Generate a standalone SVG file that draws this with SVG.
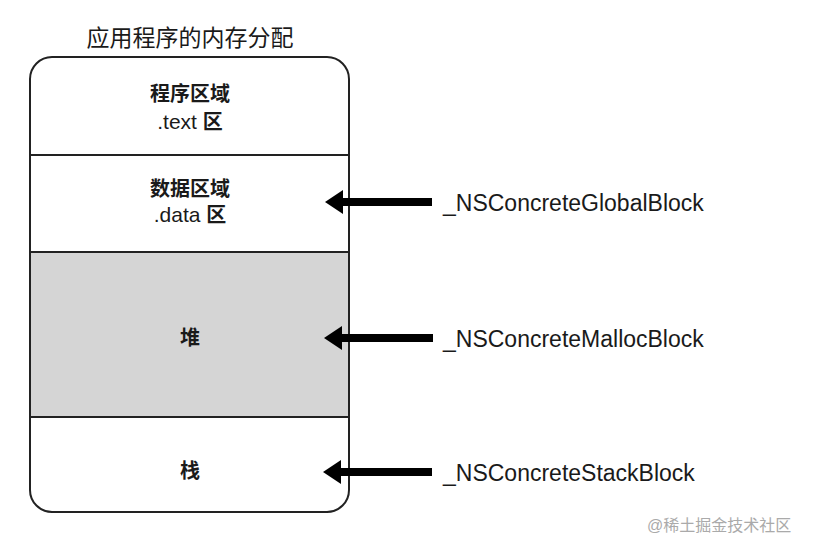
<svg xmlns="http://www.w3.org/2000/svg" width="816" height="552" viewBox="0 0 816 552">
<defs>
<style>
.cjk{font-family:"Liberation Sans","Noto Sans CJK SC",sans-serif;fill:#1a1a1a}
.b{font-weight:bold;font-size:20px}
.n{font-weight:normal}
.lbl{font-family:"Liberation Sans","Noto Sans CJK SC",sans-serif;font-size:23px;fill:#1a1a1a}
.edge{stroke:#000;stroke-width:8;fill:none}
.div{stroke:#222;stroke-width:2}
</style>
<marker id="ah" markerUnits="userSpaceOnUse" markerWidth="18" markerHeight="24" refX="5" refY="12" orient="auto" overflow="visible">
<path d="M0,0 L0,24 L18,12 Z" fill="#000"/>
</marker>
</defs>
<rect width="816" height="552" fill="#fff"/>
<text class="cjk" x="190" y="46" font-size="23" text-anchor="middle">应用程序的内存分配</text>
<g id="memory">
<path d="M30,252 H349 V417 H30 Z" fill="#d5d5d5"/>
<rect x="30" y="57" width="319" height="455" rx="22" ry="22" fill="none" stroke="#222" stroke-width="2"/>
<line class="div" x1="30" y1="155" x2="349" y2="155"/>
<line class="div" x1="30" y1="252" x2="349" y2="252"/>
<line class="div" x1="30" y1="417" x2="349" y2="417"/>
</g>
<g id="text-segment">
<text class="cjk b" x="190" y="101" text-anchor="middle">程序区域</text>
<text class="cjk b" x="190" y="129" text-anchor="middle"><tspan class="n" font-size="21">.text </tspan>区</text>
</g>
<g id="data-segment">
<text class="cjk b" x="190" y="196" text-anchor="middle">数据区域</text>
<text class="cjk b" x="190" y="222" text-anchor="middle"><tspan class="n" font-size="21">.data </tspan>区</text>
</g>
<g id="heap"><text class="cjk b" x="190" y="345" text-anchor="middle">堆</text></g>
<g id="stack"><text class="cjk b" x="190" y="478" text-anchor="middle">栈</text></g>
<g id="connectors">
<line class="edge" x1="432" y1="202" x2="338" y2="202" marker-end="url(#ah)"/>
<line class="edge" x1="433" y1="338" x2="337" y2="338" marker-end="url(#ah)"/>
<line class="edge" x1="432" y1="472" x2="336" y2="472" marker-end="url(#ah)"/>
</g>
<g id="global-label"><text class="lbl" x="443" y="211">_NSConcreteGlobalBlock</text></g>
<g id="malloc-label"><text class="lbl" x="443" y="347">_NSConcreteMallocBlock</text></g>
<g id="stack-label"><text class="lbl" x="443" y="481">_NSConcreteStackBlock</text></g>
<text x="647" y="531" font-family="Liberation Sans,'Noto Sans CJK SC',sans-serif" font-size="16" fill="#aaa">@稀土掘金技术社区</text>
</svg>
